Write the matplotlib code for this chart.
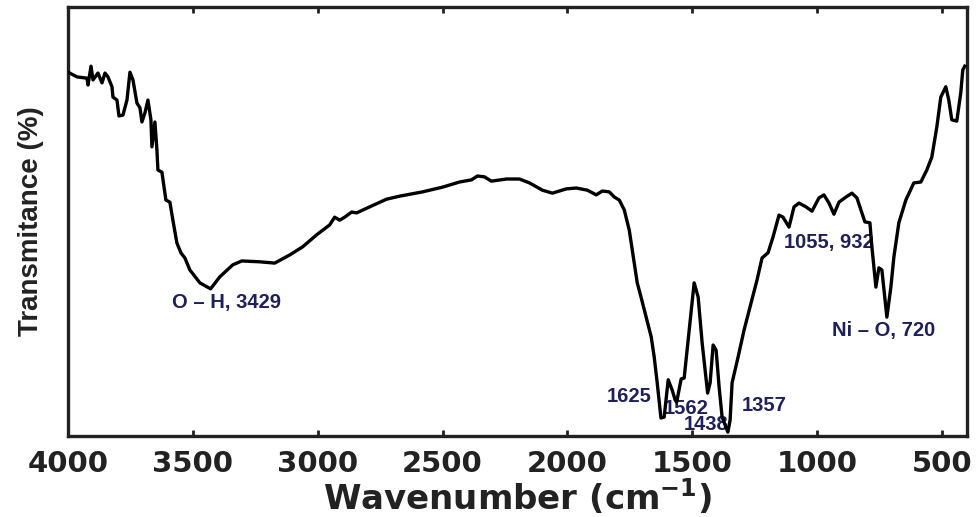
import matplotlib
matplotlib.use("Agg")
import matplotlib.pyplot as plt
from matplotlib import font_manager

# FTIR spectrum (wavenumber in cm^-1, transmittance in arbitrary %)
wavenumber = [4000, 3964, 3924, 3920, 3908, 3900, 3880, 3864, 3852, 3840,
              3824, 3820, 3804, 3796, 3780, 3764, 3752, 3740, 3724, 3712,
              3704, 3692, 3680, 3668, 3664, 3652, 3644, 3640, 3624, 3608,
              3592, 3580, 3564, 3548, 3532, 3512, 3472, 3429, 3392, 3340,
              3304, 3232, 3172, 3112, 3060, 3004, 2952, 2932, 2912, 2892,
              2864, 2844, 2792, 2724, 2672, 2580, 2500, 2432, 2384, 2360,
              2332, 2304, 2244, 2192, 2152, 2100, 2060, 2004, 1964, 1920,
              1884, 1860, 1832, 1812, 1792, 1772, 1752, 1732, 1720, 1704,
              1684, 1664, 1652, 1640, 1625, 1612, 1596, 1580, 1568, 1562,
              1544, 1532, 1512, 1492, 1476, 1460, 1438, 1428, 1416, 1404,
              1392, 1380, 1357, 1348, 1340, 1316, 1292, 1264, 1240, 1220,
              1196, 1176, 1152, 1136, 1112, 1092, 1072, 1044, 1020, 992,
              972, 952, 932, 912, 884, 860, 840, 820, 808, 788,
              780, 764, 752, 740, 724, 720, 704, 692, 672, 644,
              612, 584, 560, 540, 520, 504, 484, 472, 460, 440,
              424, 416, 408]
transmittance = [84.8, 83.7, 83.4, 81.8, 86.2, 83.0, 84.6, 82.3, 84.6, 83.7,
                 81.4, 79.0, 78.3, 74.6, 74.8, 78.3, 84.8, 83.0, 77.6, 76.5,
                 73.2, 75.3, 78.3, 73.7, 67.4, 73.2, 66.7, 62.0, 61.5, 55.0,
                 54.5, 50.3, 45.0, 42.7, 41.5, 38.7, 35.7, 34.3, 37.1, 39.9,
                 40.8, 40.6, 40.3, 42.2, 44.1, 46.9, 49.2, 51.0, 50.3, 51.0,
                 52.2, 52.0, 53.4, 55.2, 55.9, 56.9, 58.0, 59.2, 59.7, 60.6,
                 60.4, 59.4, 59.9, 59.9, 59.0, 57.3, 56.6, 57.6, 57.8, 57.3,
                 56.2, 57.1, 56.9, 55.7, 55.0, 52.7, 48.0, 40.3, 35.7, 32.2,
                 27.7, 23.1, 18.4, 12.4, 4.2, 4.4, 13.1, 10.7, 8.4, 7.9,
                 13.3, 13.5, 24.7, 35.7, 32.4, 21.7, 10.0, 12.4, 21.2, 20.0,
                 11.4, 4.4, 0.9, 3.7, 12.4, 18.4, 24.7, 31.0, 36.4, 41.5,
                 42.7, 46.4, 51.5, 51.0, 48.7, 53.4, 54.3, 53.4, 52.4, 55.5,
                 56.2, 54.3, 51.7, 54.5, 55.7, 56.6, 55.5, 52.0, 49.9, 49.7,
                 44.1, 34.7, 39.2, 38.7, 29.8, 27.7, 34.7, 41.7, 49.7, 55.0,
                 59.0, 59.2, 62.0, 65.0, 72.0, 79.0, 81.4, 78.3, 73.7, 73.4,
                 80.0, 85.3, 86.2]

# peak labels: text, x position (cm^-1), y position (%)
peak_labels = ["O \u2013 H, 3429", "1625", "1562", "1438", "1357",
               "1055, 932", "Ni \u2013 O, 720"]
label_x = [3364, 1754, 1524, 1444, 1210, 952, 734]
label_y = [31.2, 9.1, 6.3, 2.6, 7.2, 45.2, 24.5]

xticks = [4000, 3500, 3000, 2500, 2000, 1500, 1000, 500]

installed = {f.name for f in font_manager.fontManager.ttflist}
if "Liberation Sans Narrow" in installed:
    ylab_font = dict(family="Liberation Sans Narrow", size=24)
else:
    ylab_font = dict(family="Liberation Sans", size=20)

fig = plt.figure(figsize=(9.79, 5.17), dpi=100)
ax = fig.add_axes([0.0695, 0.1567, 0.918, 0.8298])

ax.plot(wavenumber, transmittance, color="black", lw=2.4, zorder=3,
        solid_joinstyle="round")

for txt, lx, ly in zip(peak_labels, label_x, label_y):
    ax.text(lx, ly, txt, ha="center", va="center", color="#1f1f5c",
            fontsize=14.5, fontweight="bold", family="Liberation Sans",
            zorder=2)

ax.set_xlim(4000, 400)
ax.set_ylim(0, 100)
ax.set_xticks(xticks)
ax.set_xticklabels([str(t) for t in xticks], fontsize=21,
                   fontweight="bold", family="DejaVu Sans")
ax.set_yticks([])
ax.tick_params(axis="x", direction="in", length=4, width=2, top=True,
               pad=10, colors="#222222")

for sp in ax.spines.values():
    sp.set_linewidth(2.4)
    sp.set_color("#222222")

ax.set_xlabel(r"Wavenumber (cm$^{\mathbf{-1}}$)", fontsize=24.5,
              fontweight="bold", family="DejaVu Sans", labelpad=-1,
              color="#222222")
ax.set_ylabel("Transmitance (%)", fontweight="bold", labelpad=17,
              color="#222222", **ylab_font)

fig.savefig("out.png", dpi=100)
